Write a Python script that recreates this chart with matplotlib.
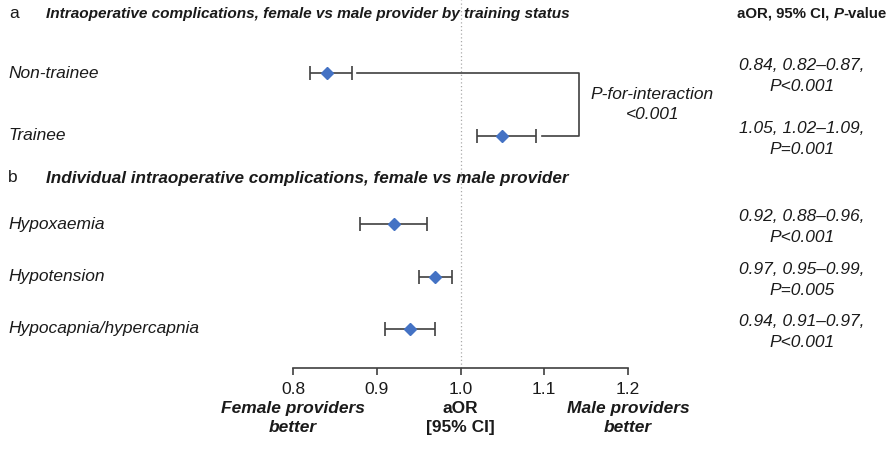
import matplotlib.pyplot as plt
import matplotlib.transforms as mtransforms

plt.rcParams['font.family'] = ['Liberation Sans', 'DejaVu Sans']

# data
labels = ["Non-trainee", "Trainee", "Hypoxaemia", "Hypotension", "Hypocapnia/hypercapnia"]
aor = [0.84, 1.05, 0.92, 0.97, 0.94]
ci_low = [0.82, 1.02, 0.88, 0.95, 0.91]
ci_high = [0.87, 1.09, 0.96, 0.99, 0.97]
p_text = ["P<0.001", "P=0.001", "P<0.001", "P=0.005", "P<0.001"]
xticks = [0.8, 0.9, 1.0, 1.1, 1.2]

# layout (rows in pixel units from top)
row_y = [73, 136, 224, 277, 329]
axis_y = 368
W, H = 892, 454
blue = "#4472C4"
grey = "#404040"
txt = "#1a1a1a"

fig = plt.figure(figsize=(W / 100, H / 100), dpi=100)
ax = fig.add_axes([293 / W, (H - axis_y) / H, 335 / W, axis_y / H])
ax.set_xlim(0.8, 1.2)
ax.set_ylim(axis_y, 0)

for s in ["top", "right", "left"]:
    ax.spines[s].set_visible(False)
ax.spines["bottom"].set_color(grey)
ax.spines["bottom"].set_linewidth(1.2)
ax.set_yticks([])
ax.set_xticks(xticks)
ax.set_xticklabels([f"{t:.1f}" for t in xticks])
ax.tick_params(axis="x", length=5, width=1.2, color=grey, labelsize=12.5,
               labelcolor=txt, pad=5)

ax.axvline(1.0, color="#aaaaaa", linestyle=(0, (1, 2)), linewidth=0.9, zorder=0)

for i in range(len(labels)):
    err = [[aor[i] - ci_low[i]], [ci_high[i] - aor[i]]]
    ax.errorbar(aor[i], row_y[i], xerr=err, fmt="D", color=blue, markersize=6.5,
                ecolor=grey, elinewidth=1.2, capsize=5, capthick=1.2, zorder=3)

# interaction bracket between non-trainee and trainee
bx = 1.142
ax.plot([ci_high[0] + 0.007, bx, bx, ci_high[1] + 0.007],
        [row_y[0], row_y[0], row_y[1], row_y[1]], color=grey, linewidth=1.2)
ax.text(bx + 0.087, (row_y[0] + row_y[1]) / 2, "P-for-interaction\n<0.001",
        ha="center", va="center", fontsize=12.5, style="italic", color=txt,
        linespacing=1.45, clip_on=False)

trans = mtransforms.blended_transform_factory(fig.transFigure, ax.transData)
for i, lab in enumerate(labels):
    ax.text(8 / W, row_y[i], lab, transform=trans, ha="left", va="center",
            fontsize=12.5, style="italic", color=txt)
    ax.text(802 / W, row_y[i] + 3,
            f"{aor[i]:.2f}, {ci_low[i]:.2f}\u2013{ci_high[i]:.2f},\n{p_text[i]}",
            transform=trans, ha="center", va="center", fontsize=12.5,
            style="italic", color=txt, linespacing=1.55)

# section headers
ax.text(9 / W, 14, "a", transform=trans, ha="left", va="center", fontsize=12.5, color=txt)
ax.text(46 / W, 14, "Intraoperative complications, female vs male provider by training status",
        transform=trans, ha="left", va="center", fontsize=11.1, weight="bold",
        style="italic", color=txt)
ax.text(8 / W, 178, "b", transform=trans, ha="left", va="center", fontsize=12.5, color=txt)
ax.text(46 / W, 178, "Individual intraoperative complications, female vs male provider",
        transform=trans, ha="left", va="center", fontsize=12.3, weight="bold",
        style="italic", color=txt)

# right-hand column header, built from pieces so only "P" is italic
t1 = ax.text(737 / W, 14, "aOR, 95% CI, ", transform=trans, ha="left", va="center",
             fontsize=10.8, weight="bold", color=txt)
t2 = ax.annotate("P", xy=(1, 0), xycoords=t1, ha="left", va="bottom",
                 fontsize=10.8, weight="bold", style="italic", color=txt)
ax.annotate("-value", xy=(1, 0), xycoords=t2, ha="left", va="bottom",
            fontsize=10.8, weight="bold", color=txt)

# bottom labels
ax.text(0.8, 418, "Female providers\nbetter", ha="center", va="center", fontsize=12.5,
        weight="bold", style="italic", color=txt, linespacing=1.4, clip_on=False)
ax.text(1.0, 418, "aOR\n[95% CI]", ha="center", va="center", fontsize=12.5,
        weight="bold", color=txt, linespacing=1.4, clip_on=False)
ax.text(1.2, 418, "Male providers\nbetter", ha="center", va="center", fontsize=12.5,
        weight="bold", style="italic", color=txt, linespacing=1.4, clip_on=False)

fig.savefig("out.png", dpi=100)
